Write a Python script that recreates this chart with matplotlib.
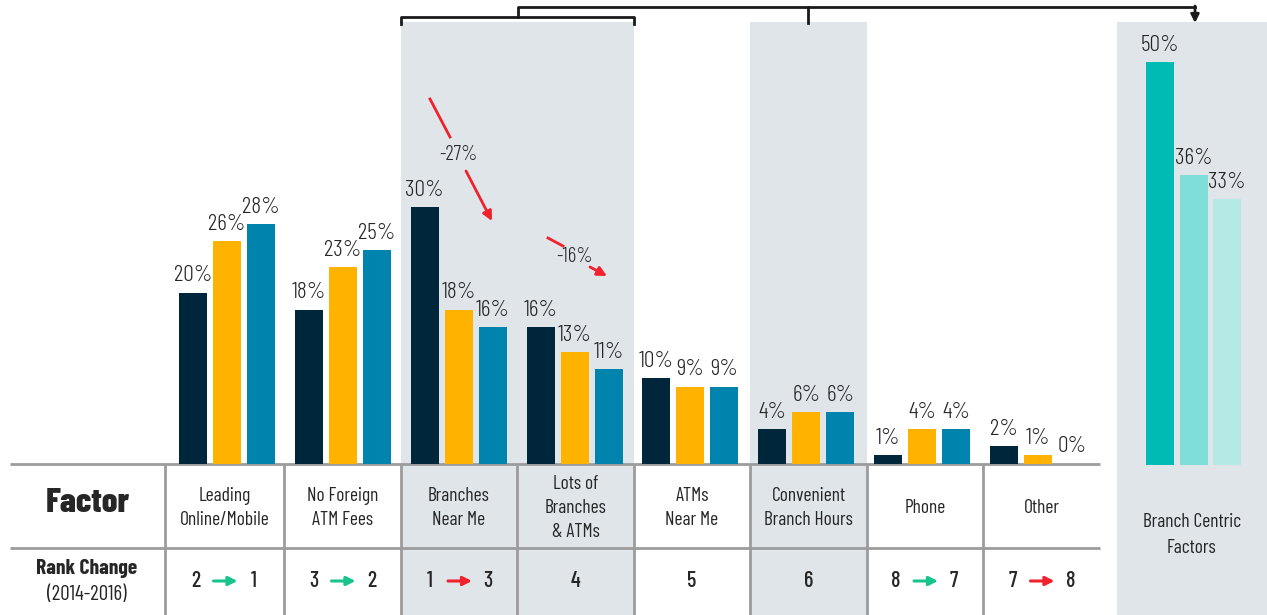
import matplotlib
matplotlib.use("Agg")
import matplotlib.pyplot as plt
from matplotlib import font_manager
from matplotlib.patches import Rectangle

# survey shares (%) by factor, three survey years
factors = ["Leading\nOnline/Mobile", "No Foreign\nATM Fees", "Branches\nNear Me",
           "Lots of\nBranches\n& ATMs", "ATMs\nNear Me", "Convenient\nBranch Hours",
           "Phone", "Other"]
share_2014 = [20, 18, 30, 16, 10, 4, 1, 2]
share_2015 = [26, 23, 18, 13, 9, 6, 4, 1]
share_2016 = [28, 25, 16, 11, 9, 6, 4, 0]
rank_2014 = [2, 3, 1, 4, 5, 6, 8, 7]
rank_2016 = [1, 2, 3, 4, 5, 6, 7, 8]
branch_centric = [50, 36, 33]
branch_factors = [2, 3, 5]
drops = [("-27%", 2), ("-16%", 3)]

W, H = 1267, 615
NAVY, GOLD, BLUE = "#00263C", "#FFB300", "#0084AD"
TEALS = ["#00BBB4", "#80DED9", "#B5E9E6"]
SHADE = "#E0E5E9"
GRID = "#9C9C9C"
INK = "#262626"
GREEN, RED = "#17C48C", "#F0222E"

installed = {f.name for f in font_manager.fontManager.ttflist}
for name in ["Barlow Condensed", "Roboto Condensed", "Liberation Sans Narrow"]:
    if name in installed:
        plt.rcParams["font.family"] = [name, "DejaVu Sans"]
        break


def px_rect(left, top, right, bottom):
    return [left / W, 1 - bottom / H, (right - left) / W, (bottom - top) / H]


fig = plt.figure(figsize=(W / 100, H / 100), dpi=100)

# pixel-space layer for shading, table grid and connectors
bg = fig.add_axes([0, 0, 1, 1], zorder=0)
bg.set_xlim(0, W)
bg.set_ylim(H, 0)
bg.axis("off")

col_edges = [165, 284, 401, 517, 634, 750, 867, 983, 1100]
col_mid = [(a + b) / 2 for a, b in zip(col_edges[:-1], col_edges[1:])]

for i in branch_factors:
    bg.add_patch(Rectangle((col_edges[i], 22), col_edges[i + 1] - col_edges[i], H - 22,
                           color=SHADE, lw=0))
bg.add_patch(Rectangle((1117, 22), W - 1117, H - 22, color=SHADE, lw=0))

# table grid
for y in (463.5, 548):
    bg.plot([10, 1100], [y, y], color=GRID, lw=2, solid_capstyle="butt")
for x in col_edges[:-1]:
    bg.plot([x, x], [463.5, H], color=GRID, lw=2, solid_capstyle="butt")

bg.text(88, 503, "Factor", ha="center", va="center", fontsize=25, fontweight=800, color=INK)
bg.text(87, 568, "Rank Change", ha="center", va="center", fontsize=15.5, fontweight=700, color=INK)
bg.text(87, 594, "(2014-2016)", ha="center", va="center", fontsize=15, color=INK)

for c, name, r0, r1 in zip(col_mid, factors, rank_2014, rank_2016):
    bg.text(c, 508, name, ha="center", va="center", fontsize=14, color=INK, linespacing=1.4)
    if r0 == r1:
        bg.text(c, 581, str(r0), ha="center", va="center", fontsize=16, fontweight=500, color=INK)
    else:
        bg.text(c - 29, 581, str(r0), ha="center", va="center", fontsize=16, fontweight=500, color=INK)
        bg.text(c + 29, 581, str(r1), ha="center", va="center", fontsize=16, fontweight=500, color=INK)
        bg.annotate("", xy=(c + 13, 581), xytext=(c - 11, 581),
                    arrowprops=dict(arrowstyle="-|>", color=GREEN if r1 < r0 else RED,
                                    lw=2.2, mutation_scale=13, shrinkA=0, shrinkB=0))

bg.text(1192, 535, "Branch Centric\nFactors", ha="center", va="center", fontsize=14,
        color=INK, linespacing=1.55)

# bracket joining the branch-related factors to the summary panel
kw = dict(color="#1A1A1A", lw=2, solid_joinstyle="round")
bg.plot([401, 401, 634, 634], [24, 17, 17, 24], **kw)
bg.plot([518, 518, 1195], [17, 7, 7], **kw)
bg.plot([808, 808], [7, 23], **kw)
bg.annotate("", xy=(1195, 23), xytext=(1195, 6),
            arrowprops=dict(arrowstyle="-|>", color="#1A1A1A", lw=2, mutation_scale=12,
                            shrinkA=0, shrinkB=0))

# declines between the first and last survey for branch factors
drop_geo = {2: ((430, 99), (450, 137), (458, 155), (466, 171), (492, 221)),
            3: ((548, 238), (563, 246), (575, 257), (590, 267), (607, 276))}
for label, i in drops:
    p0, p1, t, a0, a1 = drop_geo[i]
    bg.plot([p0[0], p1[0]], [p0[1], p1[1]], color=RED, lw=2)
    bg.text(t[0], t[1], label, ha="center", va="center", fontsize=15, fontweight=300, color=INK)
    bg.annotate("", xy=a1, xytext=a0,
                arrowprops=dict(arrowstyle="-|>", color=RED, lw=2, mutation_scale=14,
                                shrinkA=0, shrinkB=0))

# grouped bars
ax = fig.add_axes(px_rect(165, 0, 1100, 463.5), zorder=2)
ax.patch.set_alpha(0)
ax.axis("off")
unit = 115.86
ax.set_xlim(-62 / unit, 7 + 62 / unit)
ax.set_ylim(0, 463.5 / 8.55)
bw, step = 28 / unit, 34 / unit
for k, (vals, col) in enumerate(zip([share_2014, share_2015, share_2016], [NAVY, GOLD, BLUE])):
    xs = [i + (k - 1) * step for i in range(len(vals))]
    ax.bar(xs, vals, width=bw, color=col, lw=0)
    for x, v in zip(xs, vals):
        ax.annotate(f"{v}%", (x, v), xytext=(0, 8), textcoords="offset points",
                    ha="center", va="baseline", fontsize=17, fontweight=300, color=INK)

# summary panel
ax2 = fig.add_axes(px_rect(1117, 0, W, 465), zorder=2)
ax2.patch.set_alpha(0)
ax2.axis("off")
ax2.set_xlim(-76.7 / unit, 73.3 / unit)
ax2.set_ylim(0, 465 / 8.06)
xs2 = [(k - 1) * 33.5 / unit for k in range(3)]
ax2.bar(xs2, branch_centric, width=bw, color=TEALS, lw=0)
for x, v in zip(xs2, branch_centric):
    ax2.annotate(f"{v}%", (x, v), xytext=(0, 8), textcoords="offset points",
                 ha="center", va="baseline", fontsize=17, fontweight=300, color=INK)

fig.savefig("out.png", dpi=100)
